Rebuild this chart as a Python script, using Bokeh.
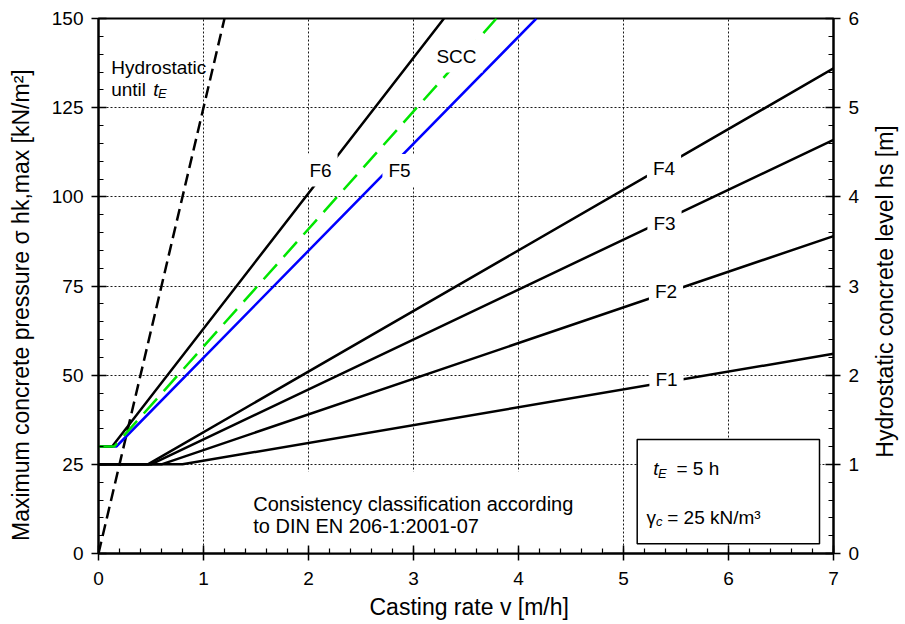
from math import pi
import numpy as np
from bokeh.plotting import figure
from bokeh.models import Range1d, LinearAxis, FixedTicker, Label, BoxAnnotation
from bokeh.embed import file_html
from bokeh.resources import INLINE

# ---------------- data ----------------
v_F1 = [0.0, 0.80, 7.0]
s_F1 = [25, 25, 56]
v_F2 = [0.0, 0.60, 7.0]
s_F2 = [25, 25, 89]
v_F3 = [0.0, 0.50, 7.0]
s_F3 = [25, 25, 116]
v_F4 = [0.0, 0.47, 7.0]
s_F4 = [25, 25, 136]
v_F5 = [0.0, 0.17, 4.17]
s_F5 = [30, 30, 150]
v_F6 = [0.0, 0.13, 3.29]
s_F6 = [30, 30, 150]
v_SCC = [0.0, 0.15, 3.79]
s_SCC = [30, 30, 150]
v_hyd = [0.0, 1.2]
s_hyd = [0, 150]

class_names = ["F1", "F2", "F3", "F4", "F5", "F6", "SCC"]
x_ticks = [0, 1, 2, 3, 4, 5, 6, 7]
y_ticks = [0, 25, 50, 75, 100, 125, 150]
h_ticks = [0, 1, 2, 3, 4, 5, 6]

FONT = "Liberation Sans"
NB = "\u00a0"


def dx(px):
    return (px - 98) / 105.0


def dy(py):
    return (553 - py) * 150.0 / 535.0


p = figure(frame_width=735, frame_height=535,
           x_range=Range1d(0, 7), y_range=Range1d(0, 150),
           output_backend="svg", toolbar_location=None,
           min_border_left=98, min_border_right=70,
           min_border_top=18, min_border_bottom=69)
p.extra_y_ranges = {"h": Range1d(0, 6)}
p.background_fill_color = "white"
p.border_fill_color = "white"
p.outline_line_color = "black"
p.outline_line_width = 2

p.xaxis[0].ticker = FixedTicker(ticks=x_ticks, minor_ticks=list(np.round(np.arange(0, 7.01, 0.2), 2)))
p.yaxis[0].ticker = FixedTicker(ticks=y_ticks, minor_ticks=list(range(0, 151, 5)))
raxis = LinearAxis(y_range_name="h",
                   ticker=FixedTicker(ticks=h_ticks, minor_ticks=list(np.round(np.arange(0, 6.01, 0.2), 2))))
p.add_layout(raxis, "right")

for ax in [p.xaxis[0], p.yaxis[0], raxis]:
    ax.axis_line_width = 2
    ax.axis_line_color = "black"
    ax.major_tick_in = 8
    ax.major_tick_out = 7
    ax.minor_tick_in = 5
    ax.minor_tick_out = 0
    ax.major_tick_line_width = 1.5
    ax.minor_tick_line_width = 1.2
    ax.major_tick_line_color = "black"
    ax.minor_tick_line_color = "black"
    ax.major_label_text_font = FONT
    ax.major_label_text_font_size = "19px"
    ax.major_label_text_color = "black"
    ax.major_label_standoff = 8
    ax.axis_label_text_font = FONT
    ax.axis_label_text_font_size = "23px"
    ax.axis_label_text_font_style = "normal"
    ax.axis_label_text_color = "black"

p.xaxis[0].major_label_standoff = 11
p.xaxis[0].axis_label = NB * 3 + "Casting rate  v  [m/h]"
p.xaxis[0].axis_label_standoff = 6
p.yaxis[0].axis_label = "Maximum concrete  pressure σ hk,max [kN/m²]" + NB * 5
p.yaxis[0].axis_label_standoff = 15

rlabel = "Hydrostatic concrete level  hs [m]"
try:
    raxis.axis_label_orientation = pi / 2
    try:
        raxis.axis_label_align = "start"
        rlabel = NB * 15 + rlabel
    except Exception:
        pass
except Exception:
    pass
raxis.axis_label = rlabel
raxis.axis_label_standoff = 23

for g in [p.xgrid[0], p.ygrid[0]]:
    g.grid_line_color = "black"
    g.grid_line_dash = "2 2"
    g.grid_line_width = 1
    g.grid_line_alpha = 0.9

# white boxes over the grid
p.add_layout(BoxAnnotation(left=dx(245), right=dx(603), bottom=0, top=dy(471),
                           fill_color="white", fill_alpha=1, line_alpha=0, level="underlay"))
p.add_layout(BoxAnnotation(left=dx(636.7), right=dx(819), bottom=dy(543.3), top=dy(439),
                           fill_color="white", fill_alpha=1, line_color="black", line_alpha=1,
                           line_width=1.5, level="underlay"))

# ---------------- curves ----------------
for vv, ss in [(v_F1, s_F1), (v_F2, s_F2), (v_F3, s_F3), (v_F4, s_F4)]:
    p.line(vv, ss, line_color="black", line_width=2.5)
p.line(v_hyd, s_hyd, line_color="black", line_width=2.5, line_dash="12 6")
p.line(v_F5, s_F5, line_color="#0000ff", line_width=2.5)
p.line(v_F6, s_F6, line_color="black", line_width=2.5)
p.line(v_SCC, s_SCC, line_color="#00e600", line_width=2.5, line_dash="20 10")

# ---------------- class labels (white boxes break the lines) ----------------
label_pos = {"F1": (666, 379), "F2": (665.5, 290.5), "F3": (664, 222.5), "F4": (663.5, 168),
             "F5": (399, 170), "F6": (320, 169.5), "SCC": (456, 55.5)}
for name in class_names:
    px, py = label_pos[name]
    p.add_layout(Label(x=dx(px), y=dy(py), text=name, text_align="center", text_baseline="middle",
                       text_font=FONT, text_font_size="19px", text_color="black",
                       background_fill_color="white", padding=6))


def txt(px, py, s, size="19px", style="normal", align="left"):
    p.add_layout(Label(x=dx(px), y=dy(py), text=s, text_align=align, text_baseline="alphabetic",
                       text_font=FONT, text_font_size=size, text_font_style=style,
                       text_color="black"))


# inside texts
txt(110.7, 66.6, "Hydrostatic")
txt(110.7, 88.5, "until")
txt(152.7, 88.5, "t", style="italic")
txt(157.5, 92.5, "E", size="13px", style="italic")

txt(252.7, 503, "Consistency classification according", size="20px")
txt(252.7, 525, "to DIN EN 206-1:2001-07", size="20px")

txt(652.7, 468, "t", style="italic")
txt(657.5, 472.5, "E", size="13px", style="italic")
txt(676, 468, "= 5 h")
txt(646, 516.7, "γ")
txt(655.5, 521, "c", size="13px", style="italic")
txt(666.7, 516.7, "= 25 kN/m³")

open("out.html", "w").write(file_html(p, INLINE))
